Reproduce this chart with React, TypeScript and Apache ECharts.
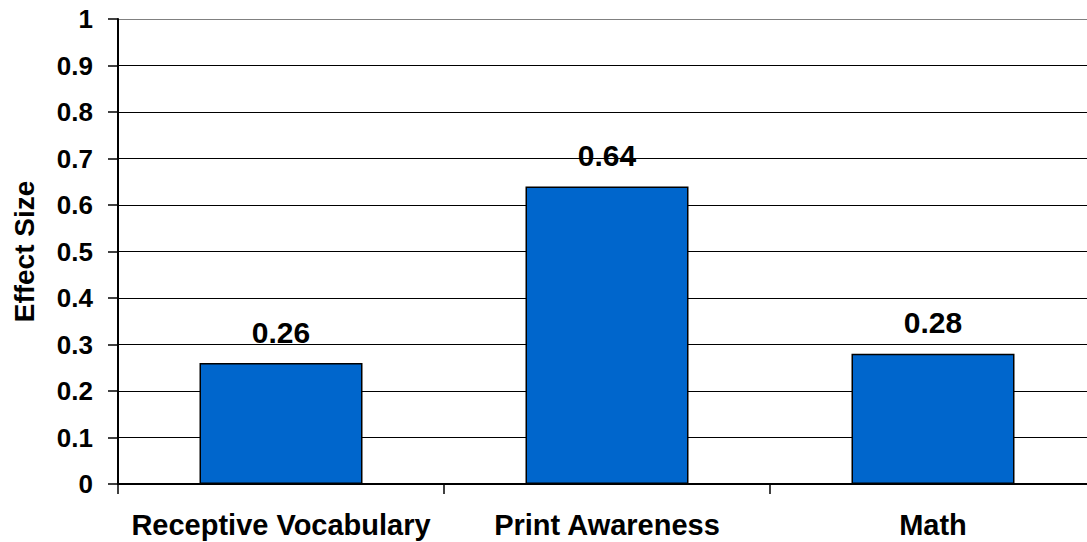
import React, { useEffect, useRef } from "react";
import * as echarts from "echarts";

const categories = ["Receptive Vocabulary", "Print Awareness", "Math"];
const effectSizes = [0.26, 0.64, 0.28];
const yAxisTitle = "Effect Size";

const FONT = "'Liberation Sans', Arial, Helvetica, sans-serif";

export default function App() {
  const ref = useRef<HTMLDivElement>(null);
  useEffect(() => {
    if (!ref.current) return;
    const chart = echarts.init(ref.current, undefined, { renderer: "svg" });
    const gridColors = Array.from({ length: 11 }, (_, i) => (i === 10 ? "#808080" : "#000000"));
    chart.setOption({
      animation: false,
      backgroundColor: "#ffffff",
      grid: { left: 118, top: 19, bottom: 58, right: 0, containLabel: false },
      xAxis: {
        type: "category",
        data: categories,
        boundaryGap: true,
        axisLine: { show: true, lineStyle: { color: "#000", width: 2 } },
        axisTick: { show: true, length: 10, alignWithLabel: false, lineStyle: { color: "#000", width: 1.5 } },
        axisLabel: {
          interval: 0,
          margin: 26,
          color: "#000",
          fontFamily: FONT,
          fontWeight: "bold",
          fontSize: 29,
        },
        splitLine: { show: false },
      },
      yAxis: {
        type: "value",
        min: 0,
        max: 1,
        interval: 0.1,
        name: yAxisTitle,
        nameLocation: "middle",
        nameGap: 80,
        nameRotate: 90,
        nameTextStyle: { color: "#000", fontFamily: FONT, fontWeight: "bold", fontSize: 28 },
        axisLine: { show: true, lineStyle: { color: "#000", width: 2 } },
        axisTick: { show: true, length: 10, inside: false, lineStyle: { color: "#000", width: 1.5 } },
        axisLabel: {
          margin: 25,
          color: "#000",
          fontFamily: FONT,
          fontWeight: "bold",
          fontSize: 26,
        },
        splitLine: { show: true, lineStyle: { color: gridColors, width: 1.2 } },
      },
      series: [
        {
          type: "bar",
          data: effectSizes,
          barWidth: "50%",
          itemStyle: { color: "#0066CC", borderColor: "#000", borderWidth: 1.5 },
          label: {
            show: true,
            position: "top",
            distance: 16,
            color: "#000",
            fontFamily: FONT,
            fontWeight: "bold",
            fontSize: 30,
            formatter: (p: any) => p.value.toFixed(2),
          },
        },
      ],
    });
    return () => chart.dispose();
  }, []);
  return (
    <div
      ref={ref}
      style={{ position: "fixed", left: 0, top: 0, width: 1096, height: 542, background: "#fff" }}
    />
  );
}
